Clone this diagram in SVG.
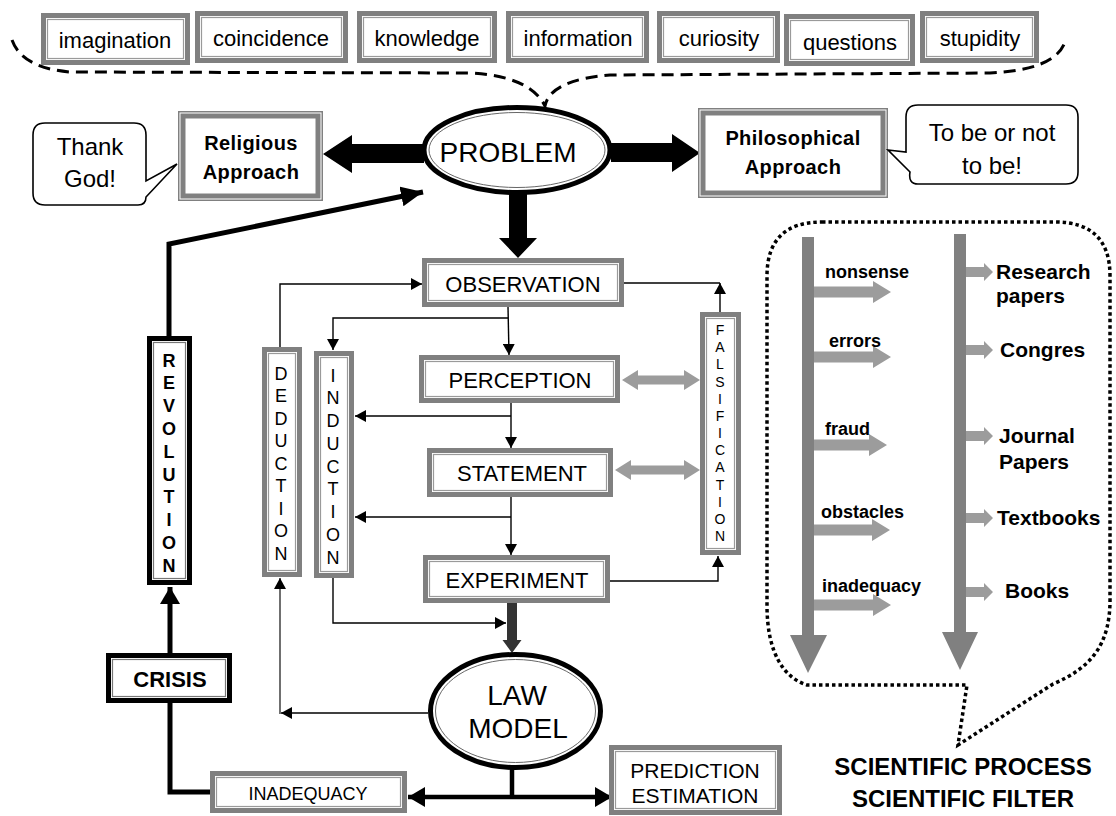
<svg xmlns="http://www.w3.org/2000/svg" width="1116" height="816" viewBox="0 0 1116 816">
<defs>
<style>
text{font-family:"Liberation Sans",Arial,sans-serif;fill:#000}
.t22{font-size:22px;text-anchor:middle}
.t24{font-size:24px;text-anchor:middle}
.t28{font-size:28px;text-anchor:middle}
.b20{font-size:20px;font-weight:bold;text-anchor:middle;letter-spacing:0.4px}
.b18{font-size:18px;font-weight:bold}
.b21{font-size:21px;font-weight:bold}
.go{fill:#fff;stroke:#808080;stroke-width:5}
.gi{fill:none;stroke:#9a9a9a;stroke-width:1.2}
.ko{fill:#fff;stroke:#000;stroke-width:5}
.ki{fill:none;stroke:#777;stroke-width:1.2}
.thin{fill:none;stroke:#000;stroke-width:1.4}
.thick{fill:none;stroke:#000;stroke-width:5}
.lg{fill:#9c9c9c}
.dg{fill:#808080}
.bubble{fill:#fff;stroke:#000;stroke-width:1.6}
</style>
<marker id="ah" markerUnits="userSpaceOnUse" markerWidth="12" markerHeight="12" refX="11" refY="6" orient="auto"><path d="M0,0 L11,6 L0,12 z" fill="#000"/></marker>
<marker id="ahB" markerUnits="userSpaceOnUse" markerWidth="22" markerHeight="20" refX="22" refY="10" orient="auto"><path d="M0,0 L22,10 L0,20 z" fill="#000"/></marker>
<marker id="ahM" markerUnits="userSpaceOnUse" markerWidth="17" markerHeight="20" refX="17" refY="10" orient="auto"><path d="M0,0 L17,10 L0,20 z" fill="#000"/></marker>
</defs>
<rect width="1116" height="816" fill="#fff"/>

<!-- top dashed brace -->
<path d="M12,40 Q22,68 70,72 L470,73 Q530,76 545,106 Q550,80 610,75 L990,73 Q1055,70 1065,42" fill="none" stroke="#000" stroke-width="3" stroke-dasharray="12 7"/>

<!-- top boxes -->
<g id="n-imagination"><rect class="go" x="43.5" y="15.5" width="144" height="47"/><rect class="gi" x="47.5" y="19.5" width="136" height="39"/><text class="t22" x="115" y="48">imagination</text></g>
<g id="n-coincidence"><rect class="go" x="197.5" y="13.5" width="148" height="47"/><rect class="gi" x="201.5" y="17.5" width="140" height="39"/><text class="t22" x="271" y="46">coincidence</text></g>
<g id="n-knowledge"><rect class="go" x="359.5" y="13.5" width="135" height="47"/><rect class="gi" x="363.5" y="17.5" width="127" height="39"/><text class="t22" x="427" y="46">knowledge</text></g>
<g id="n-information"><rect class="go" x="508.5" y="13.5" width="138" height="47"/><rect class="gi" x="512.5" y="17.5" width="130" height="39"/><text class="t22" x="578" y="46">information</text></g>
<g id="n-curiosity"><rect class="go" x="659.5" y="13.5" width="118" height="47"/><rect class="gi" x="663.5" y="17.5" width="110" height="39"/><text class="t22" x="719" y="46">curiosity</text></g>
<g id="n-questions"><rect class="go" x="786.5" y="16.5" width="126" height="47"/><rect class="gi" x="790.5" y="20.5" width="118" height="39"/><text class="t22" x="850" y="50">questions</text></g>
<g id="n-stupidity"><rect class="go" x="922.5" y="13.5" width="114" height="47"/><rect class="gi" x="926.5" y="17.5" width="106" height="39"/><text class="t22" x="980" y="46">stupidity</text></g>

<g id="connectors">
<polygon points="424,144 352,144 352,135 323,154 352,173 352,163 424,163" fill="#000"/>
<polygon points="611,143 672,143 672,134 700,153 672,172 672,162 611,162" fill="#000"/>
<polygon points="509,190 527,190 527,238 537,238 518,258 499,238 509,238" fill="#000"/>
<polyline class="thick" points="169,336 169,244 423,192" marker-end="url(#ahB)"/>
<line class="thick" x1="170" y1="653" x2="170" y2="587" marker-end="url(#ahM)"/>
<polyline class="thick" points="210,792 170,792 170,703"/>
<line x1="512" y1="767" x2="512" y2="797" stroke="#000" stroke-width="4.5"/>
<line x1="512" y1="797" x2="408" y2="797" stroke="#000" stroke-width="4.5" marker-end="url(#ahM)"/>
<line x1="512" y1="797" x2="612" y2="797" stroke="#000" stroke-width="4.5" marker-end="url(#ahM)"/>
<polyline class="thin" points="280,347 280,284 422,284" marker-end="url(#ah)"/>
<line class="thin" x1="508" y1="307" x2="509" y2="355" marker-end="url(#ah)"/>
<polyline class="thin" points="508,318 333,318 333,350" marker-end="url(#ah)"/>
<line class="thin" x1="511" y1="403" x2="511" y2="448" marker-end="url(#ah)"/>
<line class="thin" x1="511" y1="416" x2="355" y2="416" marker-end="url(#ah)"/>
<line class="thin" x1="511" y1="497" x2="511" y2="555" marker-end="url(#ah)"/>
<line class="thin" x1="511" y1="517" x2="355" y2="517" marker-end="url(#ah)"/>
<polyline class="thin" points="610,581 718,581 718,556" marker-end="url(#ah)"/>
<line class="thin" x1="624" y1="283" x2="720" y2="283"/>
<line class="thin" x1="720" y1="312" x2="720" y2="283" marker-end="url(#ah)"/>
<polyline class="thin" points="333,578 333,623 506,623" marker-end="url(#ah)"/>
<line class="thin" x1="428" y1="713" x2="281" y2="713" marker-end="url(#ah)"/>
<line x1="280" y1="714" x2="280" y2="578" stroke="#333" stroke-width="1.4" marker-end="url(#ah)"/>
<polygon points="507,603 517,603 517,640 521.5,640 512,653 502.5,640 507,640" fill="#333"/>
<polygon class="lg" points="622,380 638,370 638,375.5 684,375.5 684,370 700,380 684,390 684,384.5 638,384.5 638,390"/>
<polygon class="lg" points="615,470 631,460 631,465.5 684,465.5 684,460 700,470 684,480 684,474.5 631,474.5 631,480"/>
</g>

<g id="n-problem">
<ellipse cx="517" cy="150" rx="93" ry="42.5" fill="#fff" stroke="#000" stroke-width="5"/>
<ellipse cx="517" cy="150" rx="88" ry="37.5" fill="none" stroke="#666" stroke-width="1"/>
<text class="t28" x="508" y="162">PROBLEM</text>
</g>

<g id="n-religious">
<rect x="182" y="115" width="137" height="82" fill="#fff" stroke="#808080" stroke-width="8"/>
<rect x="180" y="113" width="141" height="86" fill="none" stroke="#fff" stroke-width="1"/>
<rect x="186" y="119" width="129" height="74" fill="none" stroke="#fff" stroke-width="1"/>
<text class="b20" x="251" y="150">Religious</text>
<text class="b20" x="251" y="179">Approach</text>
</g>
<g id="n-thankgod">
<path class="bubble" d="M45,123 H134 Q146,123 146,135 V181 L177,164 L146,197 Q146,205 138,205 H45 Q33,205 33,193 V135 Q33,123 45,123 Z"/>
<text class="t24" x="90" y="155">Thank</text>
<text class="t24" x="90" y="187">God!</text>
</g>

<g id="n-philosophical">
<rect x="702" y="112" width="182" height="82" fill="#fff" stroke="#808080" stroke-width="8"/>
<rect x="700" y="110" width="186" height="86" fill="none" stroke="#fff" stroke-width="1"/>
<rect x="706" y="116" width="174" height="74" fill="none" stroke="#fff" stroke-width="1"/>
<text class="b20" x="793" y="145">Philosophical</text>
<text class="b20" x="793" y="174">Approach</text>
</g>
<g id="n-tobe">
<path class="bubble" d="M918,105 H1066 Q1078,105 1078,117 V172 Q1078,184 1066,184 H918 Q908,184 910,172 L888,150 L906,152 V117 Q906,105 918,105 Z"/>
<text class="t24" x="992" y="141">To be or not</text>
<text class="t24" x="992" y="174">to be!</text>
</g>

<g id="n-observation"><rect class="go" x="424.5" y="260.5" width="197" height="44"/><rect class="gi" x="428.5" y="264.5" width="189" height="36"/><text class="t22" x="523" y="292">OBSERVATION</text></g>
<g id="n-perception"><rect class="go" x="421.5" y="357.5" width="196" height="43"/><rect class="gi" x="425.5" y="361.5" width="188" height="35"/><text class="t22" x="520" y="388">PERCEPTION</text></g>
<g id="n-statement"><rect class="go" x="429.5" y="450.5" width="181" height="44"/><rect class="gi" x="433.5" y="454.5" width="173" height="36"/><text class="t22" x="522" y="481">STATEMENT</text></g>
<g id="n-experiment"><rect class="go" x="425.5" y="557.5" width="182" height="43"/><rect class="gi" x="429.5" y="561.5" width="174" height="35"/><text class="t22" x="517" y="588">EXPERIMENT</text></g>

<g id="n-falsification"><rect class="go" x="702.5" y="314.5" width="36" height="238"/><rect class="gi" x="706.5" y="318.5" width="28" height="230"/>
<text style="font-size:14px;text-anchor:middle" x="720" y="335">F<tspan x="720" dy="17.17">A</tspan><tspan x="720" dy="17.17">L</tspan><tspan x="720" dy="17.17">S</tspan><tspan x="720" dy="17.17">I</tspan><tspan x="720" dy="17.17">F</tspan><tspan x="720" dy="17.17">I</tspan><tspan x="720" dy="17.17">C</tspan><tspan x="720" dy="17.17">A</tspan><tspan x="720" dy="17.17">T</tspan><tspan x="720" dy="17.17">I</tspan><tspan x="720" dy="17.17">O</tspan><tspan x="720" dy="17.17">N</tspan></text></g>

<g id="n-deduction"><rect class="go" x="264.5" y="349.5" width="35" height="225"/><rect class="gi" x="268.5" y="353.5" width="27" height="217"/>
<text style="font-size:18px;text-anchor:middle" x="281" y="379.5">D<tspan x="281" dy="22.5">E</tspan><tspan x="281" dy="22.5">D</tspan><tspan x="281" dy="22.5">U</tspan><tspan x="281" dy="22.5">C</tspan><tspan x="281" dy="22.5">T</tspan><tspan x="281" dy="22.5">I</tspan><tspan x="281" dy="22.5">O</tspan><tspan x="281" dy="22.5">N</tspan></text></g>

<g id="n-induction"><rect class="go" x="316.5" y="353.5" width="35" height="222"/><rect class="gi" x="320.5" y="357.5" width="27" height="214"/>
<text style="font-size:18px;text-anchor:middle" x="333" y="381.5">I<tspan x="333" dy="22.75">N</tspan><tspan x="333" dy="22.75">D</tspan><tspan x="333" dy="22.75">U</tspan><tspan x="333" dy="22.75">C</tspan><tspan x="333" dy="22.75">T</tspan><tspan x="333" dy="22.75">I</tspan><tspan x="333" dy="22.75">O</tspan><tspan x="333" dy="22.75">N</tspan></text></g>

<g id="n-revolution"><rect class="ko" x="149.5" y="338.5" width="40" height="244"/><rect class="ki" x="153.5" y="342.5" width="32" height="236"/>
<text style="font-size:18px;font-weight:bold;text-anchor:middle" x="169" y="366.5">R<tspan x="169" dy="22.8">E</tspan><tspan x="169" dy="22.8">V</tspan><tspan x="169" dy="22.8">O</tspan><tspan x="169" dy="22.8">L</tspan><tspan x="169" dy="22.8">U</tspan><tspan x="169" dy="22.8">T</tspan><tspan x="169" dy="22.8">I</tspan><tspan x="169" dy="22.8">O</tspan><tspan x="169" dy="22.8">N</tspan></text></g>

<g id="n-crisis"><rect class="ko" x="108.5" y="655.5" width="121" height="45"/><rect class="ki" x="112.5" y="659.5" width="113" height="37"/><text style="font-size:22px;font-weight:bold;text-anchor:middle" x="170" y="687">CRISIS</text></g>

<g id="n-law">
<ellipse cx="515.5" cy="711" rx="85" ry="56.5" fill="#fff" stroke="#000" stroke-width="5"/>
<ellipse cx="515.5" cy="711" rx="80" ry="51.5" fill="none" stroke="#666" stroke-width="1"/>
<text class="t28" x="517" y="705">LAW</text>
<text class="t28" x="518" y="738">MODEL</text>
</g>

<g id="n-inadequacy"><rect class="go" x="212.5" y="773.5" width="192" height="37"/><rect class="gi" x="216.5" y="777.5" width="184" height="29"/><text style="font-size:18px;text-anchor:middle" x="308" y="800">INADEQUACY</text></g>

<g id="n-prediction"><rect class="go" x="611.5" y="747.5" width="168" height="65"/><rect class="gi" x="615.5" y="751.5" width="160" height="57"/><text style="font-size:21px;text-anchor:middle" x="695" y="778">PREDICTION</text><text style="font-size:21px;text-anchor:middle" x="695" y="803">ESTIMATION</text></g>

<g id="n-filter">
<path d="M822,222 H1055 Q1110,222 1110,276 V596 C1111,646 1090,668 1053,684 L958,745 L967,685 H807 C785,678 767,655 767,605 V276 Q767,222 822,222 Z" fill="none" stroke="#000" stroke-width="3.5" stroke-dasharray="3.5 3"/>
<polygon class="dg" points="802,237 814,237 814,635 827,635 808,673 790,635 802,635"/>
<polygon class="dg" points="954,234 966,234 966,632 978,632 960,670 942,632 954,632"/>
<polygon class="lg" points="814,286.5 873,286.5 873,281 891,292 873,303 873,297.5 814,297.5"/>
<polygon class="lg" points="814,351.5 873,351.5 873,346 891,357 873,368 873,362.5 814,362.5"/>
<polygon class="lg" points="814,439.5 869,439.5 869,434 887,445 869,456 869,450.5 814,450.5"/>
<polygon class="lg" points="814,524.5 872,524.5 872,519 890,530 872,541 872,535.5 814,535.5"/>
<polygon class="lg" points="814,599.5 873,599.5 873,594 891,605 873,616 873,610.5 814,610.5"/>
<polygon class="lg" points="966,267 984,267 984,263 993,272 984,281 984,277 966,277"/>
<polygon class="lg" points="966,345 984,345 984,341 993,350 984,359 984,355 966,355"/>
<polygon class="lg" points="966,431 984,431 984,427 993,436 984,445 984,441 966,441"/>
<polygon class="lg" points="966,513 984,513 984,509 993,518 984,527 984,523 966,523"/>
<polygon class="lg" points="966,587 984,587 984,583 993,592 984,601 984,597 966,597"/>
<text class="b18" x="825" y="278">nonsense</text>
<text class="b18" x="829" y="347">errors</text>
<text class="b18" x="825" y="435">fraud</text>
<text class="b18" x="821" y="518">obstacles</text>
<text class="b18" x="822" y="592">inadequacy</text>
<text class="b21" x="996" y="279">Research</text>
<text class="b21" x="996" y="303">papers</text>
<text class="b21" x="1000" y="357">Congres</text>
<text class="b21" x="999" y="443">Journal</text>
<text class="b21" x="999" y="469">Papers</text>
<text class="b21" x="997" y="525">Textbooks</text>
<text class="b21" x="1005" y="598">Books</text>
</g>
<g id="n-caption">
<text style="font-size:24px;font-weight:bold;text-anchor:middle" x="963" y="775">SCIENTIFIC PROCESS</text>
<text style="font-size:24px;font-weight:bold;text-anchor:middle" x="963" y="807">SCIENTIFIC FILTER</text>
</g>
</svg>
